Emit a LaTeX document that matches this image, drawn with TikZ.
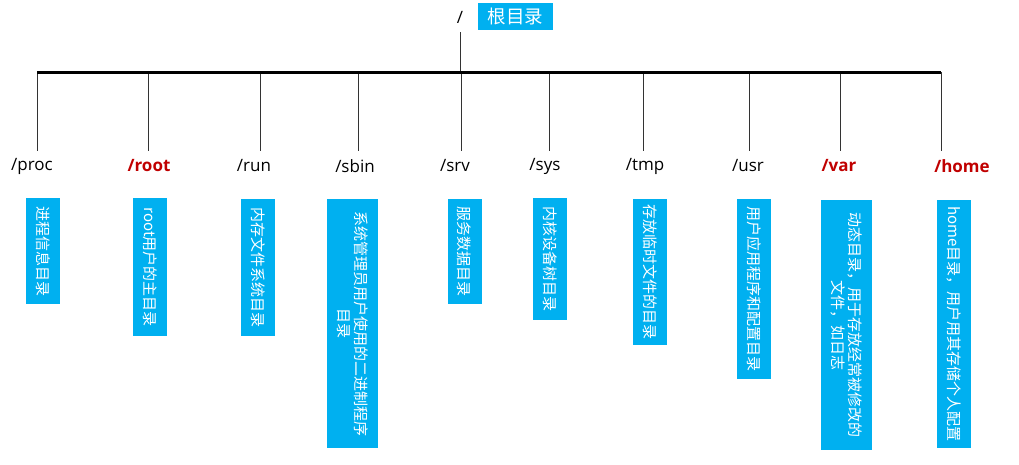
\documentclass[tikz,border=0pt]{standalone}
\usepackage{fontspec}
\setmainfont{Open Sans}
\newfontfamily\cjk{Noto Sans CJK SC}
\definecolor{dirblue}{HTML}{00B0F0}
\definecolor{dirred}{HTML}{C00000}

\tikzset{
  dir/.style={inner sep=0pt, font=\fontsize{17}{17}\selectfont},
  hot/.style={dir, text=dirred, font=\fontsize{17}{17}\selectfont\bfseries},
  note/.style={fill=dirblue, text=white, rotate=-90, anchor=west, inner sep=0pt,
    minimum height=34pt, align=center, font=\cjk\fontsize{15}{17}\selectfont},
  leg/.style={draw=black!80, line width=0.8pt},
}

\begin{document}
\begin{tikzpicture}[x=1pt, y=-1pt]
        \useasboundingbox (0,0) rectangle (1019,464);
        % root
        \node[dir] (slash) at (460,17) {/};
        \node[fill=dirblue, text=white, inner sep=0pt, minimum width=75pt, minimum height=27pt,
              font=\cjk\fontsize{18.5}{18.5}\selectfont] (topnote) at (515.5,16.5) {根目录};
        \coordinate (rtop) at (460,32);
        \coordinate (hub) at (460,72);
        \draw[leg] (rtop) -- (hub);

        % branches
        \foreach \n/\x in {proc/37, root/148, run/260, sbin/358, srv/461,
                           sys/549, tmp/643, usr/749, var/840, home/941}{
            \coordinate (\n-top) at (\x,72);
            \coordinate (\n-end) at (\x,151);
            \draw[leg] (\n-top) -- (\n-end);
        }
        \draw[line width=3pt] (proc-top) -- (home-top);

        % directory names
        \node[dir] (proc) at (32,166) {/proc};
        \node[hot] (root) at (149,166) {/root};
        \node[dir] (run)  at (254,166) {/run};
        \node[dir] (sbin) at (355,166) {/sbin};
        \node[dir] (srv)  at (455,166) {/srv};
        \node[dir] (sys)  at (545,166) {/sys};
        \node[dir] (tmp)  at (645,166) {/tmp};
        \node[dir] (usr)  at (748,166) {/usr};
        \node[hot] (var)  at (839,166) {/var};
        \node[hot] (home) at (962,166) {/home};

        % notes
        \node[note, minimum width=106pt] (procnote) at (43,198) {进程信息目录};
        \node[note, minimum width=138pt] (rootnote) at (150,198) {root用户的主目录};
        \node[note, minimum width=137pt] (runnote) at (258,199) {内存文件系统目录};
        \node[note, minimum width=249pt, minimum height=51pt] (sbinnote) at (352.5,199)
              {系统管理员用户使用的二进制程序\\目录};
        \node[note, minimum width=105pt] (srvnote) at (464.5,199) {服务数据目录};
        \node[note, minimum width=122pt] (sysnote) at (550,198) {内核设备树目录};
        \node[note, minimum width=146pt] (tmpnote) at (650,199) {存放临时文件的目录};
        \node[note, minimum width=180pt] (usrnote) at (754,199) {用户应用程序和配置目录};
        \node[note, minimum width=250pt, minimum height=51pt] (varnote) at (846.5,200)
              {动态目录，用于存放经常被修改的\\文件，如日志};
        \node[note, minimum width=248pt] (homenote) at (954,200) {home目录，用户用其存储个人配置};
\end{tikzpicture}
\end{document}
